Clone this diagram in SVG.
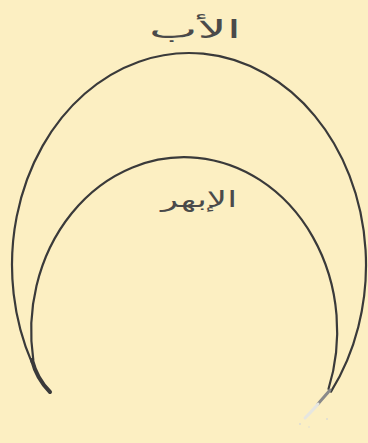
<svg xmlns="http://www.w3.org/2000/svg" width="368" height="443" viewBox="0 0 368 443">
<style>
.arc{fill:none;stroke:#3a3a3a;stroke-width:2.2;stroke-linecap:round;stroke-linejoin:round}
.lbl{font-family:"DejaVu Sans",sans-serif;fill:#4a4a4a;text-anchor:middle;direction:rtl}
</style>
<rect width="368" height="443" fill="#fcefc2"/>
<g id="connectors">
<path id="outer" class="arc" d="M32 362.9 A177 212 0 1 1 331 391.6"/>
<path id="inner" class="arc" d="M33.3 360 A153 174 0 1 1 328.5 389"/>
<path id="tail-left" d="M32 360 C35 372 41 383 50 392" fill="none" stroke="#3a3a3a" stroke-width="4" stroke-linecap="round"/>
<path id="tail-right" d="M330 390 C326 395 322 399 318 404" fill="none" stroke="#8a8a8a" stroke-width="3" stroke-linecap="round"/>
<path d="M318 404 C314 409 310 413 305 418" fill="none" stroke="#e6e6e0" stroke-width="3" stroke-linecap="round"/>
<circle cx="300" cy="424" r="1" fill="#dcdcd6"/>
<circle cx="327" cy="419" r="1" fill="#dcdcd6"/>
<circle cx="309" cy="427" r="0.8" fill="#dcdcd6"/>
</g>
<g id="label-outer"><text class="lbl" x="195" y="38" font-size="25" textLength="92" lengthAdjust="spacingAndGlyphs">الأب</text></g>
<g id="label-inner"><text class="lbl" x="199" y="207" font-size="22" textLength="76" lengthAdjust="spacingAndGlyphs">الإبهر</text></g>
</svg>
